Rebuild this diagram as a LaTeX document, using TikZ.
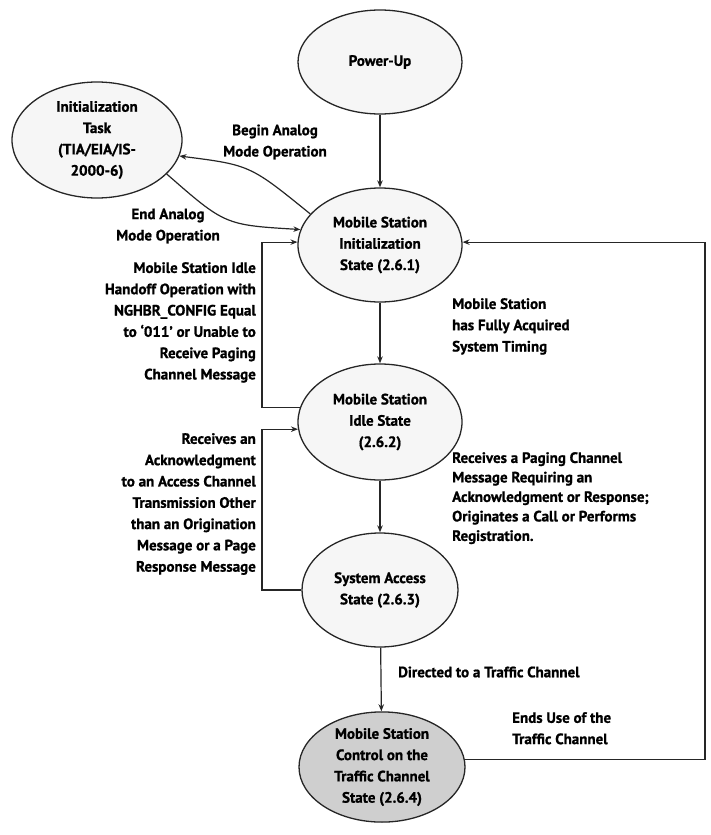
\documentclass[tikz,border=0pt]{standalone}
\usepackage{fontspec}
\setmainfont{PT Sans}[BoldFeatures={FakeBold=1}]
\usetikzlibrary{shapes.geometric,arrows.meta}
\begin{document}
\begin{tikzpicture}[x=1pt,y=-1pt,
  font=\bfseries\fontsize{15}{21.3}\selectfont,
  state/.style={ellipse,draw=black!85,line width=1.3pt,fill=gray!7,
    inner sep=0pt,align=center},
  darkstate/.style={state,fill=gray!38},
  lblr/.style={inner sep=0pt,align=right},
  lbll/.style={inner sep=0pt,align=left},
  lblc/.style={inner sep=0pt,align=center},
  link/.style={line width=1.2pt,draw=black!85},
  arr/.style={link,-{Stealth[length=7pt,width=5.5pt]}}
]
\useasboundingbox (0,0) rectangle (710,835);

% states
\node[state,minimum width=164pt,minimum height=104pt] (pu) at (380,62) {Power-Up};
\node[state,minimum width=170pt,minimum height=116pt] (task) at (97,140)
  {Initialization\\Task\\(TIA/EIA/IS-\\2000-6)};
\node[state,minimum width=164pt,minimum height=114pt] (init) at (380,245)
  {Mobile Station\\Initialization\\State (2.6.1)};
\node[state,minimum width=164pt,minimum height=116pt] (idle) at (380,422)
  {Mobile Station\\Idle State\\(2.6.2)};
\node[state,minimum width=156pt,minimum height=114pt] (sa) at (380,590)
  {System Access\\State (2.6.3)};
\node[darkstate,minimum width=166pt,minimum height=108pt] (ctl) at (382,767)
  {\fontsize{15}{20.5}\selectfont Mobile Station\\Control on the\\Traffic Channel\\State (2.6.4)};

% rails of the loop-back connectors
\coordinate (lrail) at (262,0);
\coordinate (rrail) at (705,0);

% main sequence
\draw[arr] (pu) -- (init);
\draw[arr] (init) -- (idle);
\draw[arr] (idle) -- (sa);
\draw[arr] (sa) -- (ctl);

% analog mode exchange
\draw[arr] (init.156) .. controls (250,165) .. (task.-11);
\draw[arr] (task.-26) .. controls (225,225) .. (init.169);

% loop-backs on the left
\draw[arr] (idle.170) -- (idle.170 -| lrail) |- (init.178);
\draw[arr] (sa.west) -- (sa.west -| lrail) |- (idle.185);

% return from the traffic channel
\draw[arr] (ctl.5) -- (ctl.5 -| rrail) |- (init.2);

% transition labels
\node[lblc] (lbegin) at (275,142) {Begin Analog\\Mode Operation};
\node[lblc] (lend) at (168,226) {End Analog\\Mode Operation};
\node[lblr,anchor=north east] (lhand) at (256,262)
  {Mobile Station Idle\\Handoff Operation with\\NGHBR\_CONFIG Equal\\to `011' or Unable to\\Receive Paging\\Channel Message};
\node[lbll,anchor=north west] (ltiming) at (452,298)
  {Mobile Station\\has Fully Acquired\\System Timing};
\node[lblr,anchor=north east] (lack) at (256,433)
  {Receives an\\Acknowledgment\\to an Access Channel\\Transmission Other\\than an Origination\\Message or a Page\\Response Message};
\node[lbll,anchor=north west,font=\bfseries\fontsize{15}{19.5}\selectfont] (lpage) at (452,452)
  {Receives a Paging Channel\\Message Requiring an\\Acknowledgment or Response;\\Originates a Call or Performs\\Registration.};
\node[lbll,anchor=west] (ldirect) at (398,672) {Directed to a Traffic Channel};
\node[lbll,anchor=north west] (lends) at (512,712) {Ends Use of the\\Traffic Channel};
\end{tikzpicture}
\end{document}
